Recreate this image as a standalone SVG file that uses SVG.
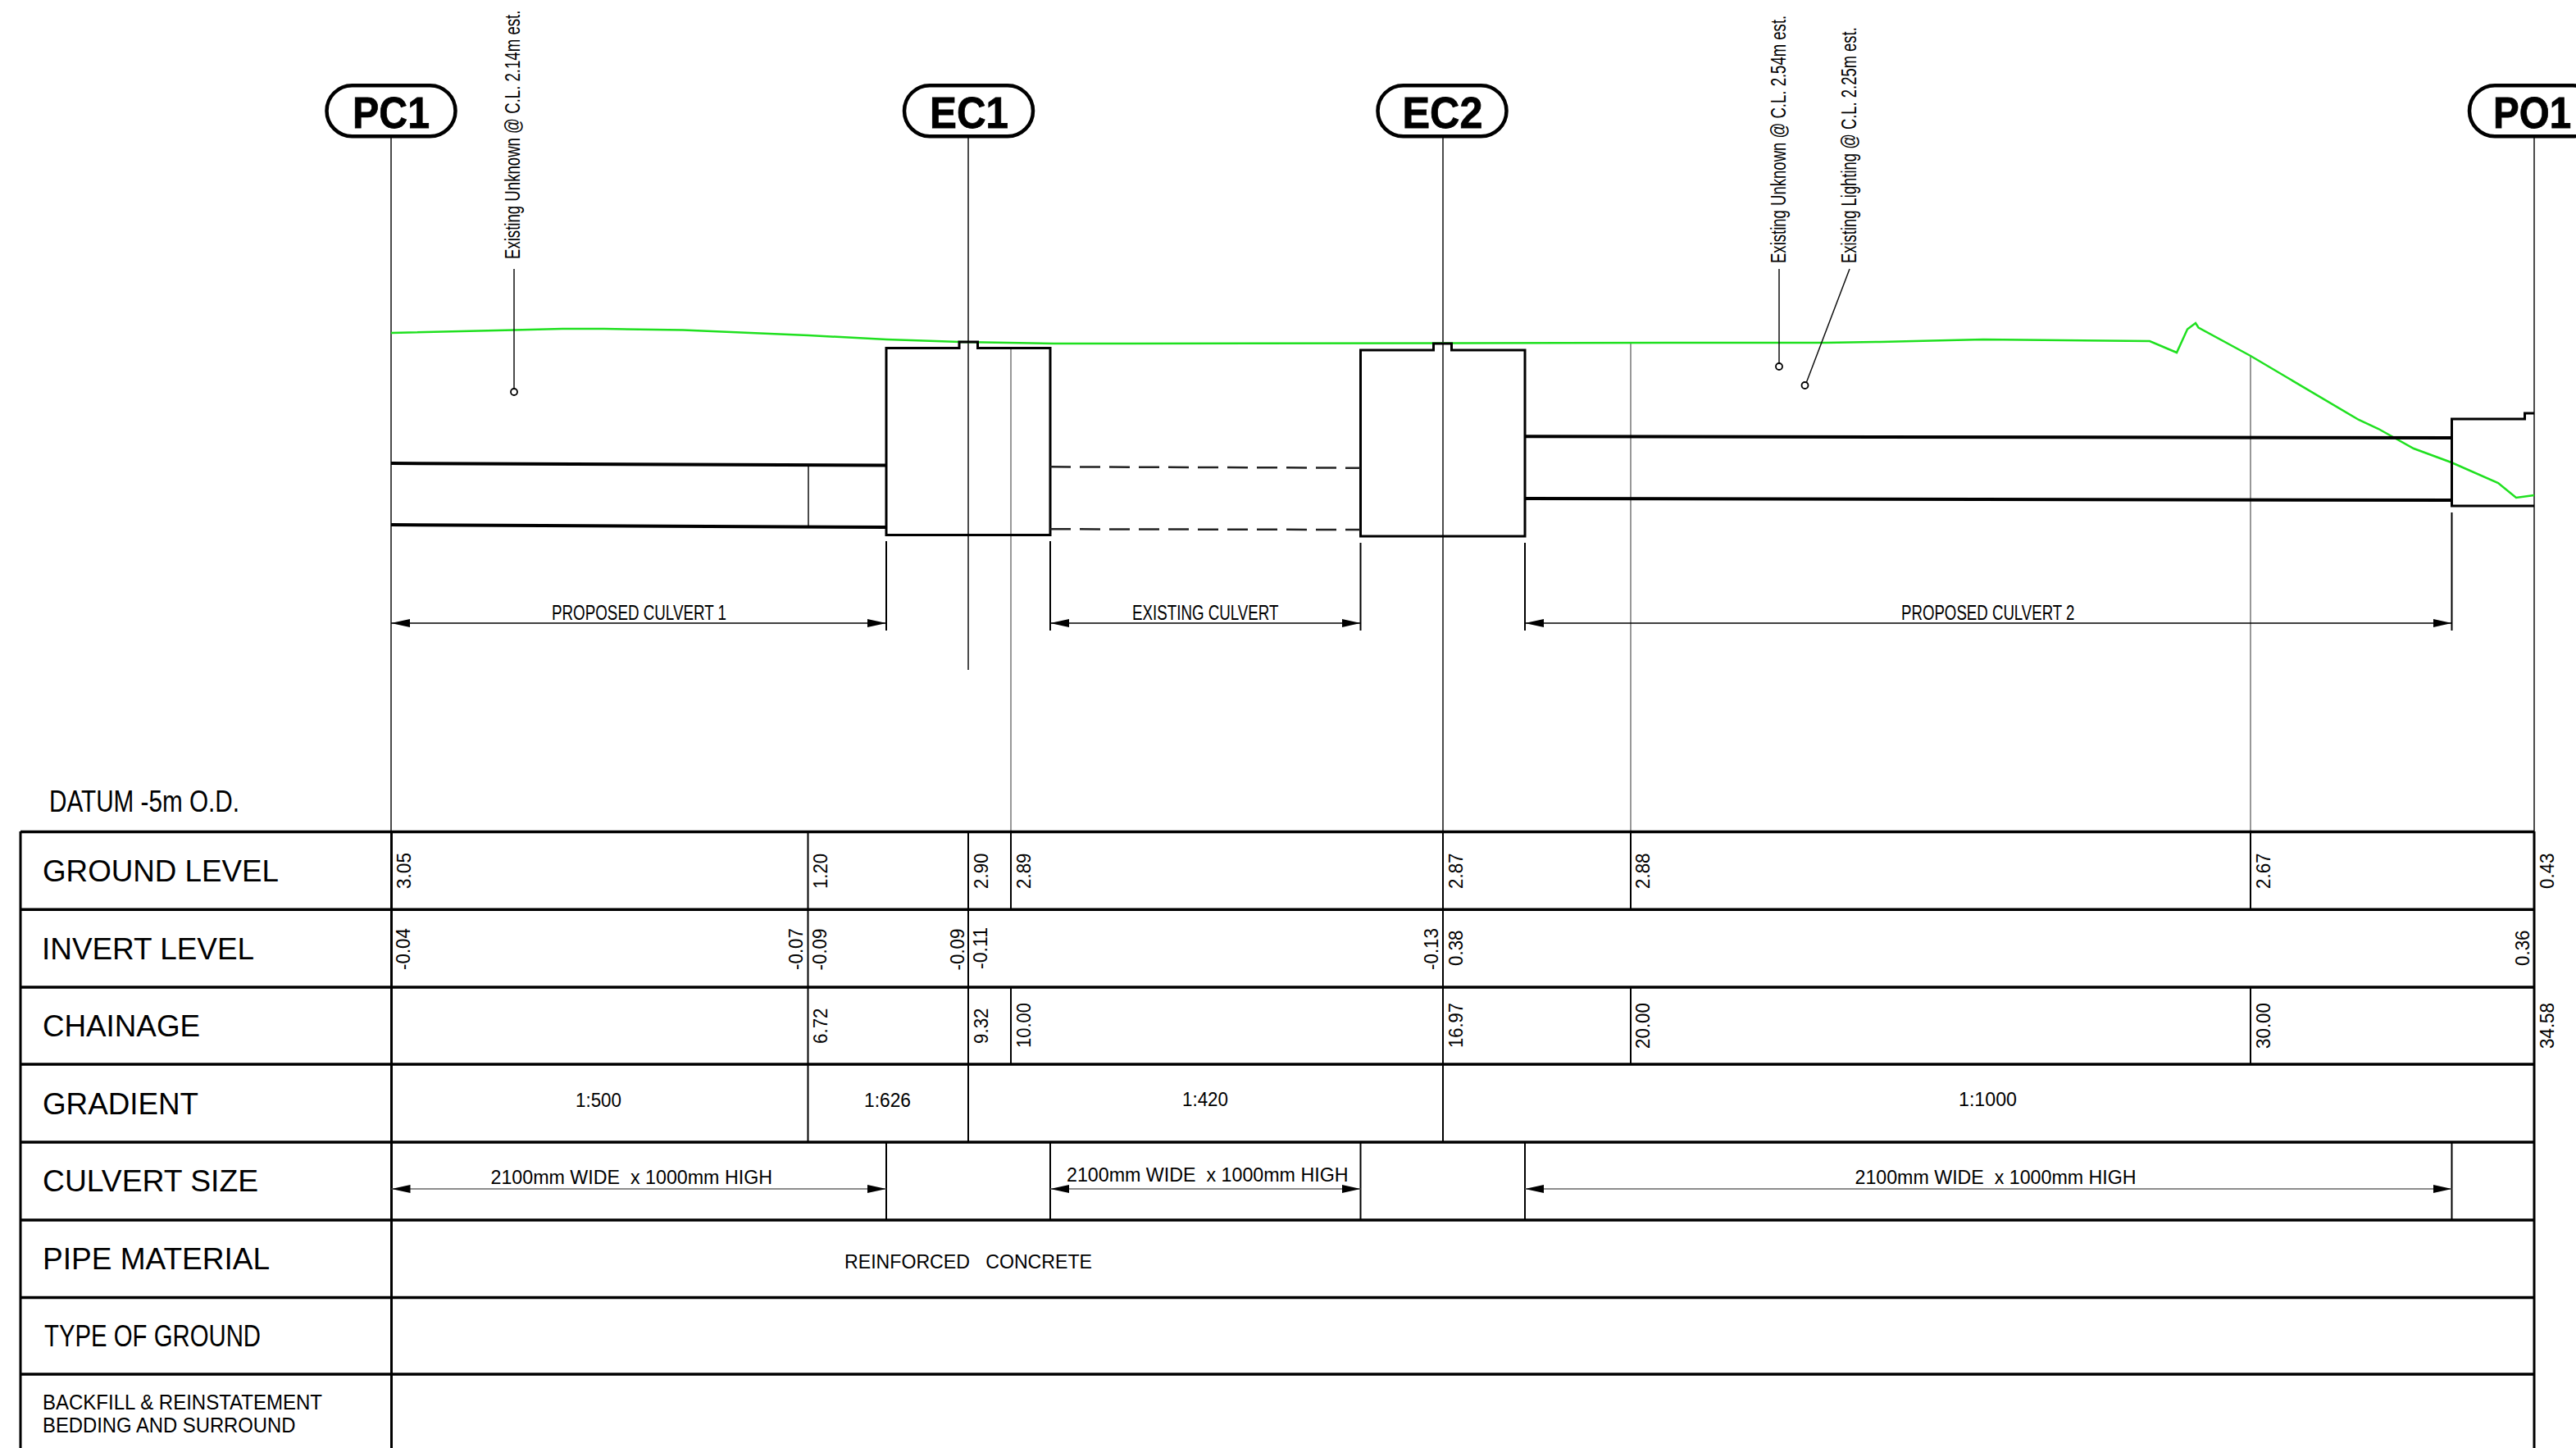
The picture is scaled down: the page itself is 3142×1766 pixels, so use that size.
<svg xmlns="http://www.w3.org/2000/svg" width="3142" height="1766" viewBox="0 0 3142 1766">
<style>
text{font-family:"Liberation Sans",Arial,sans-serif;fill:#000;white-space:pre}
.lab{font-size:36px}
.sm{font-size:25px}
.num{font-size:24px}
.cap{font-size:54px;font-weight:bold;stroke:#000;stroke-width:.8}
.pill{fill:#fff;stroke:#000;stroke-width:4.500}
.row{stroke:#000;stroke-width:3.500;fill:none}
.col{stroke:#000;stroke-width:2;fill:none}
.colb{stroke:#000;stroke-width:3;fill:none}
.gray{stroke:#777;stroke-width:1.500;fill:none}
.thin{stroke:#111;stroke-width:1.500;fill:none}
.pipe{stroke:#000;stroke-width:4;fill:none}
.box{stroke:#000;stroke-width:3;fill:none}
.dash{stroke:#222;stroke-width:2.500;fill:none;stroke-dasharray:25 11}
.tick{stroke:#000;stroke-width:2;fill:none}
.dim{stroke:#000;stroke-width:1.500;fill:none;marker-start:url(#ah);marker-end:url(#ah)}
.dimg{stroke:#666;stroke-width:1.500;fill:none;marker-start:url(#ah);marker-end:url(#ah)}
.ground{stroke:#1fe01f;stroke-width:2.500;fill:none}
.dot{fill:#fff;stroke:#000;stroke-width:1.800}
</style>
<defs>
<marker id="ah" markerUnits="userSpaceOnUse" markerWidth="24" markerHeight="12" refX="23" refY="6" orient="auto-start-reverse">
<polygon points="0,1 23,6 0,11" fill="#000"/>
</marker>
</defs>
<rect width="3142" height="1766" fill="#fff"/>

<g id="gridlines">
<path class="gray" d="M1233 424V1014M1989 418V1014M2745 434V1014"/>
<path class="thin" d="M986 566V642M1181 168V817M1760 168V1014M477 168V1014M3091 168V1014"/>
</g>

<g id="ground-line">
<polyline class="ground" points="477,406 627,402.500 686,401 737,401 833,402.500 986,409 1081.500,414 1171,417 1285.600,419 1380,419 2100,418 2226,418 2293,417 2419,414 2622,416 2655,430 2668,401.500 2678,394 2681.500,399.500 2745,434 2877,512 2901,523 2944,547 2990,564 3047,589 3069,607 3091,604"/>
</g>

<g id="chamber-EC1"><path class="box" d="M1081 652.500V424.500H1170V417H1192.500V424.500H1281V652.500Z"/></g>
<g id="chamber-EC2"><path class="box" d="M1659.500 654V427H1748.500V419H1770.500V427H1860V654Z"/></g>
<g id="chamber-PO1"><path class="box" d="M3091 617H2990.500V511H3079.500V504H3091"/></g>

<g id="connectors">
<path class="pipe" d="M477 565L1081 567.500M477 640L1081 643M1860 532.300L2990 534M1860 608L2990 610"/>
<path class="dash" d="M1281 569.300L1659 570.700M1281 645.300L1659 646"/>
<path class="tick" d="M1081 660V769M1281 660V769M1659.500 662V769M1860 662V769M2990.500 625V769"/>
<path class="dim" d="M477 760H1081"/>
<path class="dim" d="M1281 760H1659.500"/>
<path class="dim" d="M1860 760H2990.500"/>
<path class="thin" d="M627 328V474M2170 328V443M2256 328L2203.500 466"/>
<circle class="dot" cx="627" cy="478" r="4"/>
<circle class="dot" cx="2170" cy="447" r="4"/>
<circle class="dot" cx="2201.500" cy="470" r="4"/>
</g>

<g id="node-PC1"><rect class="pill" x="398.500" y="104.200" width="157" height="62" rx="31" ry="31"/><text class="cap" x="430" y="155.500" textLength="94" lengthAdjust="spacingAndGlyphs">PC1</text></g>
<g id="node-EC1"><rect class="pill" x="1103" y="104.200" width="157" height="62" rx="31" ry="31"/><text class="cap" x="1134" y="155.500" textLength="96" lengthAdjust="spacingAndGlyphs">EC1</text></g>
<g id="node-EC2"><rect class="pill" x="1680.500" y="104.200" width="157" height="62" rx="31" ry="31"/><text class="cap" x="1710.500" y="155.500" textLength="98" lengthAdjust="spacingAndGlyphs">EC2</text></g>
<g id="node-PO1"><rect class="pill" x="3012" y="104.200" width="157" height="62" rx="31" ry="31"/><text class="cap" transform="translate(3041,155.500) scale(.88,1)">PO1</text></g>

<g id="annotations">
<text class="sm" transform="translate(634,316) rotate(-90) scale(.745,1)">Existing Unknown @ C.L. 2.14m est.</text>
<text class="sm" transform="translate(2178,321) rotate(-90) scale(.742,1)">Existing Unknown @ C.L. 2.54m est.</text>
<text class="sm" transform="translate(2264,321) rotate(-90) scale(.737,1)">Existing Lighting @ C.L. 2.25m est.</text>
<text class="sm" x="673" y="756" textLength="213" lengthAdjust="spacingAndGlyphs">PROPOSED CULVERT 1</text>
<text class="sm" x="1381" y="756" textLength="178.500" lengthAdjust="spacingAndGlyphs">EXISTING CULVERT</text>
<text class="sm" x="2319" y="756" textLength="211.500" lengthAdjust="spacingAndGlyphs">PROPOSED CULVERT 2</text>
<text class="lab" x="60" y="990" textLength="232" lengthAdjust="spacingAndGlyphs">DATUM -5m O.D.</text>
</g>

<g id="table">
<path class="row" d="M25 1014.500H3091M25 1109.300H3091M25 1204H3091M25 1298H3091M25 1393H3091M25 1488H3091M25 1582.500H3091M25 1676H3091"/>
<path class="colb" d="M25 1014V1766M477.500 1014V1766M3091 1014V1766"/>
<path class="col" d="M985.500 1014V1393M1181 1014V1393M1760 1014V1393M1233 1014V1109M1233 1204V1298M1989 1014V1109M1989 1204V1298M2745 1014V1109M2745 1204V1298M1081 1393V1488M1281 1393V1488M1659.500 1393V1488M1860 1393V1488M2990.500 1393V1488"/>
<path class="dimg" d="M477.500 1450H1081"/>
<path class="dimg" d="M1281 1450H1659.500"/>
<path class="dimg" d="M1860 1450H2990.500"/>
<text class="lab" x="52" y="1075" textLength="288" lengthAdjust="spacingAndGlyphs">GROUND LEVEL</text>
<text class="lab" x="51" y="1169.500" textLength="259" lengthAdjust="spacingAndGlyphs">INVERT LEVEL</text>
<text class="lab" x="52" y="1264" textLength="192" lengthAdjust="spacingAndGlyphs">CHAINAGE</text>
<text class="lab" x="52" y="1358.500" textLength="190" lengthAdjust="spacingAndGlyphs">GRADIENT</text>
<text class="lab" x="52" y="1453" textLength="263" lengthAdjust="spacingAndGlyphs">CULVERT SIZE</text>
<text class="lab" x="52" y="1547.500" textLength="277" lengthAdjust="spacingAndGlyphs">PIPE MATERIAL</text>
<text class="lab" x="54" y="1642" textLength="264" lengthAdjust="spacingAndGlyphs">TYPE OF GROUND</text>
<text class="sm" x="52" y="1718.500" textLength="341" lengthAdjust="spacingAndGlyphs">BACKFILL &amp; REINSTATEMENT</text>
<text class="sm" x="52" y="1747" textLength="308.500" lengthAdjust="spacingAndGlyphs">BEDDING AND SURROUND</text>

<text class="num" transform="translate(500.500,1084) rotate(-90)" textLength="44" lengthAdjust="spacingAndGlyphs">3.05</text>
<text class="num" transform="translate(1009,1084) rotate(-90)" textLength="43" lengthAdjust="spacingAndGlyphs">1.20</text>
<text class="num" transform="translate(1205,1084) rotate(-90)" textLength="43.500" lengthAdjust="spacingAndGlyphs">2.90</text>
<text class="num" transform="translate(1257,1084) rotate(-90)" textLength="43.500" lengthAdjust="spacingAndGlyphs">2.89</text>
<text class="num" transform="translate(1784,1084) rotate(-90)" textLength="43.500" lengthAdjust="spacingAndGlyphs">2.87</text>
<text class="num" transform="translate(2012,1084) rotate(-90)" textLength="43.500" lengthAdjust="spacingAndGlyphs">2.88</text>
<text class="num" transform="translate(2769,1084) rotate(-90)" textLength="43.500" lengthAdjust="spacingAndGlyphs">2.67</text>
<text class="num" transform="translate(3115,1084) rotate(-90)" textLength="43.500" lengthAdjust="spacingAndGlyphs">0.43</text>

<text class="num" transform="translate(500,1183) rotate(-90)" textLength="51" lengthAdjust="spacingAndGlyphs">-0.04</text>
<text class="num" transform="translate(979,1183) rotate(-90)" textLength="51" lengthAdjust="spacingAndGlyphs">-0.07</text>
<text class="num" transform="translate(1007.500,1183.500) rotate(-90)" textLength="51" lengthAdjust="spacingAndGlyphs">-0.09</text>
<text class="num" transform="translate(1176,1183.500) rotate(-90)" textLength="51" lengthAdjust="spacingAndGlyphs">-0.09</text>
<text class="num" transform="translate(1204,1182) rotate(-90)" textLength="51" lengthAdjust="spacingAndGlyphs">-0.11</text>
<text class="num" transform="translate(1754,1183) rotate(-90)" textLength="51" lengthAdjust="spacingAndGlyphs">-0.13</text>
<text class="num" transform="translate(1784,1178) rotate(-90)" textLength="43.500" lengthAdjust="spacingAndGlyphs">0.38</text>
<text class="num" transform="translate(3085,1178) rotate(-90)" textLength="43.500" lengthAdjust="spacingAndGlyphs">0.36</text>

<text class="num" transform="translate(1009,1273) rotate(-90)" textLength="43.500" lengthAdjust="spacingAndGlyphs">6.72</text>
<text class="num" transform="translate(1205,1273) rotate(-90)" textLength="43.500" lengthAdjust="spacingAndGlyphs">9.32</text>
<text class="num" transform="translate(1257,1278) rotate(-90)" textLength="55" lengthAdjust="spacingAndGlyphs">10.00</text>
<text class="num" transform="translate(1784,1278) rotate(-90)" textLength="55" lengthAdjust="spacingAndGlyphs">16.97</text>
<text class="num" transform="translate(2012,1279) rotate(-90)" textLength="56" lengthAdjust="spacingAndGlyphs">20.00</text>
<text class="num" transform="translate(2769,1279) rotate(-90)" textLength="56" lengthAdjust="spacingAndGlyphs">30.00</text>
<text class="num" transform="translate(3115,1279) rotate(-90)" textLength="56" lengthAdjust="spacingAndGlyphs">34.58</text>

<text class="num" x="702" y="1350" textLength="56" lengthAdjust="spacingAndGlyphs">1:500</text>
<text class="num" x="1054" y="1350" textLength="57" lengthAdjust="spacingAndGlyphs">1:626</text>
<text class="num" x="1442" y="1349" textLength="56" lengthAdjust="spacingAndGlyphs">1:420</text>
<text class="num" x="2389" y="1349" textLength="71" lengthAdjust="spacingAndGlyphs">1:1000</text>
<text class="num" x="598.500" y="1444" textLength="343.500" lengthAdjust="spacingAndGlyphs">2100mm WIDE  x 1000mm HIGH</text>
<text class="num" x="1301" y="1441" textLength="343.500" lengthAdjust="spacingAndGlyphs">2100mm WIDE  x 1000mm HIGH</text>
<text class="num" x="2262.500" y="1444" textLength="343" lengthAdjust="spacingAndGlyphs">2100mm WIDE  x 1000mm HIGH</text>
<text class="num" x="1030" y="1547" textLength="302" lengthAdjust="spacingAndGlyphs">REINFORCED   CONCRETE</text>
</g>
</svg>
